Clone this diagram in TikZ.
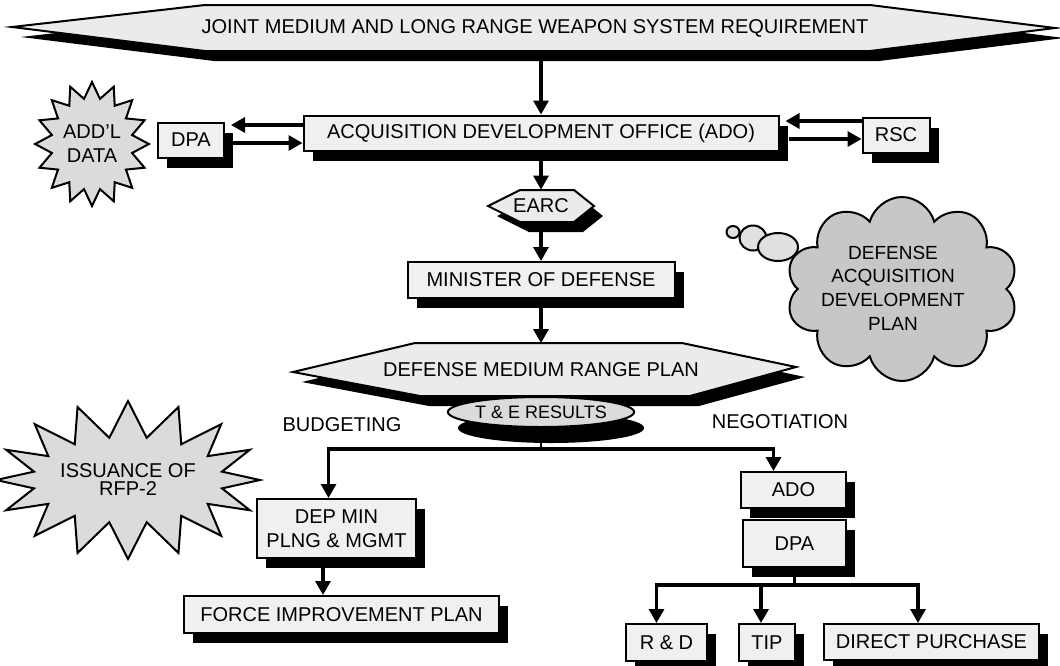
\documentclass[tikz,border=0pt]{standalone}
\usepackage{fontspec}
\setmainfont{Liberation Sans}
\usetikzlibrary{shapes, shadows, arrows.meta}

\begin{document}
\begin{tikzpicture}[
    x=0.5pt, y=-0.5pt,
    font=\fontsize{10}{12}\selectfont,
    text centered,
    dropped/.style={
      drop shadow={shadow xshift=4.5pt, shadow yshift=-5pt, fill=black, opacity=1}
    },
    block/.style={
      rectangle,
      line width=1pt,
      draw=black,
      fill=black!6,
      inner sep=1pt,
      align=center,
      dropped
    },
    flag/.style={
      draw=black,
      line width=1pt,
      fill=black!8,
      dropped
    },
    label/.style={
      inner sep=0pt,
      align=center
    },
    disc/.style={
      ellipse,
      line width=1pt,
      draw=black,
      fill=black!14,
      inner sep=0pt,
      drop shadow={shadow xshift=5pt, shadow yshift=-8pt, fill=black, opacity=1}
    },
    burst/.style={
      starburst,
      starburst points=16,
      random starburst=0,
      line width=1pt,
      draw=black,
      fill=black!14,
      inner sep=0pt,
      align=center
    },
    thought/.style={
      cloud,
      cloud puffs=10,
      line width=1pt,
      draw=black,
      fill=black!22,
      inner sep=0pt
    },
    bubble/.style={
      ellipse,
      line width=1pt,
      draw=black,
      fill=black!12,
      inner sep=0pt
    },
    line/.style={draw, line width=1.6pt, -{Triangle[length=7pt, width=7.5pt]}},
    wire/.style={draw, line width=1.4pt}
    ]
    \useasboundingbox (0, 0) rectangle (1060, 665);
    % upper chain
    \path [flag] (12, 27) -- (205, 5) -- (870, 5) -- (1055, 28) -- (870, 51) -- (205, 51) -- cycle;
    \node at (535, 28) [label, minimum height=23pt] (req) {JOINT MEDIUM AND LONG RANGE WEAPON SYSTEM REQUIREMENT};
    \node at (541, 133) [block, minimum width=237.5pt, minimum height=17.5pt] (ado) {ACQUISITION DEVELOPMENT OFFICE (ADO)};
    \node at (191, 140) [block, minimum width=33pt, minimum height=17.5pt] (dpa) {DPA};
    \node at (896, 135) [block, minimum width=33.5pt, minimum height=17.5pt] (rsc) {RSC};
    \node at (92, 144) [burst, minimum width=56pt, minimum height=62pt, starburst point height=8pt] (data) {ADD'L\\DATA};
    \path [flag] (488, 206) -- (520, 190) -- (574, 190) -- (594, 206) -- (574, 222) -- (520, 222) -- cycle;
    \node at (541, 206) [label, minimum height=16pt] (earc) {EARC};
    \node at (541, 280) [block, minimum width=133.5pt, minimum height=18pt] (mod) {MINISTER OF DEFENSE};
    \path [flag] (293, 372) -- (415, 343) -- (682, 343) -- (796, 367) -- (690, 396) -- (420, 396) -- cycle;
    \node at (541, 370) [label, minimum height=26.5pt] (dmrp) {DEFENSE MEDIUM RANGE PLAN};
    \node at (541, 412) [disc, minimum width=92pt, minimum height=15pt, font=\fontsize{9}{10}\selectfont] (te) {T \& E RESULTS};
    % thought cloud
    \node at (902, 289) [thought, minimum width=116pt, minimum height=92pt] (dadp) {};
    \node at (893, 288) [label, font=\fontsize{9.5}{11.8}\selectfont] (dadptext) {DEFENSE\\ACQUISITION\\DEVELOPMENT\\PLAN};
    \node at (733, 232) [bubble, minimum width=6.5pt, minimum height=6pt] (b1) {};
    \node at (753, 238) [bubble, minimum width=13.5pt, minimum height=12.5pt] (b2) {};
    \node at (778, 247) [bubble, minimum width=20pt, minimum height=14pt] (b3) {};
    % lower part
    \node at (342, 425) (budget) {BUDGETING};
    \node at (780, 422) (nego) {NEGOTIATION};
    \node at (128, 480) [burst, minimum width=121.5pt, minimum height=79pt, starburst point height=18pt, font=\fontsize{10}{9}\selectfont] (rfp) {ISSUANCE OF\\RFP-2};
    \node at (336.5, 528.5) [block, minimum width=79.5pt, minimum height=29.5pt] (depmin) {DEP MIN\\PLNG \& MGMT};
    \node at (341.5, 614.5) [block, minimum width=157.5pt, minimum height=18.5pt] (fip) {FORCE IMPROVEMENT PLAN};
    \node at (793.5, 490) [block, minimum width=52.5pt, minimum height=18pt] (ado2) {ADO};
    \node at (794.5, 543.5) [block, minimum width=51.5pt, minimum height=23.5pt] (dpa2) {DPA};
    \node at (666.5, 642.5) [block, minimum width=40.5pt, minimum height=18.5pt] (rnd) {R \& D};
    \node at (767, 642.5) [block, minimum width=28pt, minimum height=18.5pt] (tipbox) {TIP};
    \node at (931.5, 642) [block, minimum width=107.5pt, minimum height=18pt] (purchase) {DIRECT PURCHASE};
    % connectors
    \path [line] (req.south -| ado.north) -- (ado.north);
    \path [line] ([yshift=4pt]ado.west) -- ([yshift=4pt, xshift=3pt]ado.west -| dpa.east);
    \path [line] ([yshift=-5pt]ado.west -| dpa.east) -- ([yshift=-5pt]ado.west);
    \path [line] ([yshift=6pt]ado.east -| rsc.west) -- ([yshift=6pt, xshift=3pt]ado.east);
    \path [line] ([yshift=-3pt, xshift=4.5pt]ado.east) -- ([yshift=-3pt]ado.east -| rsc.west);
    \path [line] (ado) -- (earc);
    \path [line] (earc) -- (mod);
    \path [line] (mod) -- (dmrp);
    \coordinate (split) at (541, 449);
    \path [wire] (te.south) -- (split);
    \path [line] (split) -| ([xshift=-4pt]depmin.north);
    \path [line] (split) -| ([xshift=-10pt]ado2.north);
    \path [line] ([xshift=-6.75pt]depmin.south) -- ([xshift=-6.75pt]depmin.south |- fip.north);
    \path [wire] (dpa2.south) -- ++(0, 17) coordinate (fork);
    \path [line] (fork) -| ([xshift=-5pt]rnd.north);
    \path [line] (fork) -| ([xshift=-3pt]tipbox.north);
    \path [line] (fork) -| ([xshift=-6.75pt]purchase.north);
\end{tikzpicture}
\end{document}
